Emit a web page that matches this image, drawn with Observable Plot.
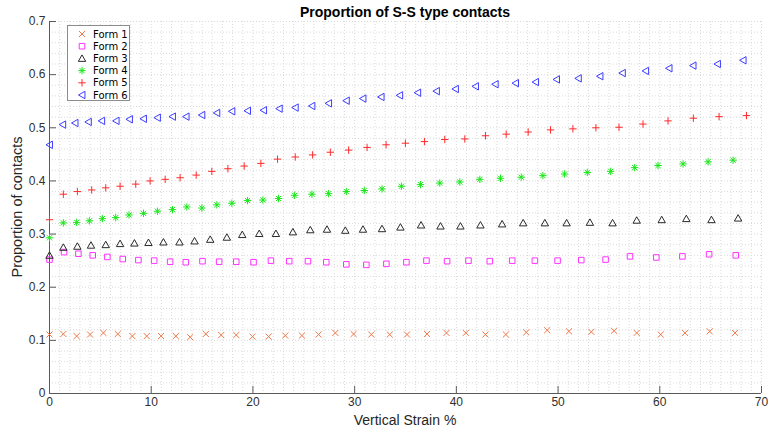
<!DOCTYPE html>
<html><head><meta charset="utf-8">
<script src="https://cdn.jsdelivr.net/npm/d3@7"></script>
<script src="https://cdn.jsdelivr.net/npm/@observablehq/plot@0.6"></script>
<style>
html,body{margin:0;padding:0;background:#fff;}
#chart{width:768px;height:431px;}
</style></head><body><div id="chart"></div>
<script>
// ---- data ----
const seriesNames = ["Form 1","Form 2","Form 3","Form 4","Form 5","Form 6"];
const xTickValues = [0,10,20,30,40,50,60,70];
const yTickValues = [0,0.1,0.2,0.3,0.4,0.5,0.6,0.7];

const form1X = [0,1.36,2.67,3.99,5.30,6.71,8.15,9.56,10.97,12.42,13.83,15.37,16.88,18.36,19.96,21.54,23.18,24.82,26.46,28.10,29.90,31.64,33.45,35.15,37.12,39.03,40.93,42.86,44.87,46.87,48.93,51.07,53.27,55.50,57.73,60.09,62.48,64.91,67.40];
const form1Y = [0.111,0.112,0.108,0.111,0.114,0.112,0.108,0.108,0.108,0.108,0.106,0.112,0.110,0.110,0.107,0.107,0.109,0.109,0.111,0.114,0.112,0.111,0.111,0.111,0.112,0.114,0.114,0.111,0.111,0.115,0.119,0.117,0.116,0.118,0.114,0.111,0.114,0.117,0.114];

const form2X = [0,1.43,2.84,4.25,5.69,7.20,8.74,10.29,11.86,13.40,15.04,16.68,18.36,20.06,21.77,23.57,25.41,27.21,29.18,31.15,33.12,35.09,37.06,39.09,41.19,43.29,45.49,47.72,49.95,52.28,54.67,57.07,59.66,62.22,64.85,67.47];
const form2Y = [0.252,0.266,0.263,0.260,0.257,0.253,0.251,0.250,0.248,0.247,0.249,0.248,0.248,0.247,0.250,0.249,0.249,0.247,0.243,0.242,0.244,0.247,0.250,0.249,0.250,0.249,0.250,0.250,0.250,0.251,0.252,0.258,0.256,0.258,0.262,0.260];

const form3X = [0,1.36,2.74,4.08,5.53,6.94,8.35,9.73,11.20,12.78,14.26,15.80,17.44,18.95,20.62,22.26,23.93,25.64,27.28,29.08,30.82,32.69,34.50,36.53,38.44,40.40,42.37,44.50,46.57,48.70,50.84,53.13,55.36,57.73,60.19,62.61,65.08,67.70];
const form3Y = [0.260,0.275,0.277,0.279,0.280,0.282,0.283,0.284,0.285,0.285,0.287,0.290,0.294,0.299,0.301,0.301,0.304,0.308,0.309,0.307,0.309,0.310,0.313,0.317,0.315,0.315,0.317,0.319,0.321,0.321,0.321,0.322,0.321,0.326,0.327,0.329,0.327,0.330];

const form4X = [0,1.36,2.67,3.92,5.20,6.51,7.82,9.24,10.61,12.09,13.50,14.98,16.45,17.93,19.47,20.98,22.52,24.10,25.80,27.44,29.18,30.95,32.69,34.60,36.47,38.37,40.34,42.31,44.34,46.38,48.51,50.64,52.87,55.17,57.53,59.83,62.29,64.75,67.21];
const form4Y = [0.293,0.321,0.322,0.325,0.329,0.331,0.336,0.339,0.343,0.346,0.351,0.349,0.355,0.358,0.363,0.364,0.367,0.373,0.375,0.376,0.380,0.382,0.385,0.390,0.393,0.396,0.398,0.403,0.405,0.407,0.410,0.413,0.416,0.418,0.425,0.429,0.432,0.436,0.439];

const form5X = [0,1.36,2.74,4.15,5.53,6.94,8.48,9.89,11.37,12.84,14.42,15.96,17.54,19.14,20.78,22.42,24.16,25.87,27.61,29.41,31.22,33.09,34.99,36.86,38.86,40.83,42.86,44.90,47.06,49.26,51.46,53.72,55.99,58.35,60.81,63.30,65.83,68.52];
const form5Y = [0.327,0.375,0.380,0.383,0.387,0.390,0.394,0.400,0.403,0.406,0.411,0.418,0.423,0.428,0.433,0.441,0.445,0.449,0.454,0.458,0.463,0.468,0.471,0.474,0.478,0.479,0.485,0.488,0.492,0.496,0.498,0.500,0.501,0.507,0.513,0.518,0.521,0.523];

const form6X = [0,1.30,2.51,3.82,5.13,6.55,7.86,9.24,10.61,12.09,13.43,14.98,16.45,17.93,19.47,21.05,22.59,24.16,25.80,27.44,29.18,30.82,32.60,34.43,36.20,38.04,39.91,41.88,43.82,45.82,47.79,49.85,51.99,54.12,56.32,58.61,60.91,63.27,65.67,68.19];
const form6Y = [0.468,0.506,0.509,0.511,0.513,0.513,0.516,0.517,0.519,0.521,0.521,0.524,0.528,0.531,0.532,0.533,0.536,0.538,0.541,0.546,0.551,0.555,0.558,0.561,0.566,0.569,0.573,0.578,0.582,0.584,0.586,0.591,0.593,0.597,0.603,0.607,0.612,0.617,0.620,0.627];

// ---- styling ----
const seriesColors = ["#f07848","#ff33ff","#2a2a2a","#18e818","#ff2a2a","#3d3dff"];
const rOf = s => Math.sqrt(s / Math.PI);
function seg(c, x0, y0, x1, y1) { c.moveTo(x0, y0); c.lineTo(x1, y1); }
const symTimes = {draw(c, s) { const r = rOf(s) * 0.82; seg(c,-r,-r,r,r); seg(c,-r,r,r,-r); }};
const symSquare = {draw(c, s) { const r = rOf(s) * 0.75; c.moveTo(-r,-r); c.lineTo(r,-r); c.lineTo(r,r); c.lineTo(-r,r); c.closePath(); }};
const symTriUp = {draw(c, s) { const r = rOf(s); c.moveTo(0,-r*0.95); c.lineTo(r,r*0.8); c.lineTo(-r,r*0.8); c.closePath(); }};
const symAster = {draw(c, s) { const r = rOf(s); seg(c,0,-r,0,r); seg(c,-r,0,r,0); const d = r*0.7; seg(c,-d,-d,d,d); seg(c,-d,d,d,-d); }};
const symPlus = {draw(c, s) { const r = rOf(s); seg(c,0,-r,0,r); seg(c,-r,0,r,0); }};
const symTriLeft = {draw(c, s) { const r = rOf(s); c.moveTo(-r*0.95,0); c.lineTo(r*0.8,-r); c.lineTo(r*0.8,r); c.closePath(); }};
const seriesSymbols = [symTimes, symSquare, symTriUp, symAster, symPlus, symTriLeft];

const seriesX = [form1X, form2X, form3X, form4X, form5X, form6X];
const seriesY = [form1Y, form2Y, form3Y, form4Y, form5Y, form6Y];
const tables = seriesX.map((xs, i) => xs.map((x, j) => ({x, y: seriesY[i][j]})));

const xGrid = d3.range(0, 71, 1);
const yGrid = d3.range(0, 36).map(i => +(i * 0.02).toFixed(2));
const R = 3.7;

const chart = Plot.plot({
  width: 768, height: 431,
  marginLeft: 49, marginRight: 7, marginTop: 21, marginBottom: 38,
  x: {domain: [0, 70]},
  y: {domain: [0, 0.7]},
  style: {fontFamily: "'Liberation Sans', Arial, sans-serif", fontSize: "12px", color: "#303030", background: "#fff"},
  marks: [
    Plot.gridX({ticks: xGrid, stroke: "#dadada", strokeOpacity: 1, strokeDasharray: "1,2"}),
    Plot.gridY({ticks: yGrid, stroke: "#dadada", strokeOpacity: 1, strokeDasharray: "1,2"}),
    Plot.ruleX([0], {stroke: "#5a5a5a"}),
    Plot.ruleY([0], {stroke: "#5a5a5a"}),
    Plot.axisX({ticks: xTickValues, tickSize: -7, tickPadding: 11, label: null, stroke: "#5a5a5a"}),
    Plot.axisY({ticks: yTickValues, tickSize: -7, tickPadding: 11, label: null, stroke: "#5a5a5a", tickFormat: d => String(d)}),
    ...tables.map((t, i) => Plot.dot(t, {x: "x", y: "y", symbol: seriesSymbols[i], r: R, stroke: seriesColors[i], fill: "none", strokeWidth: 1}))
  ]
});
document.getElementById("chart").appendChild(chart);

// ---- titles and legend ----
const svg = d3.select(chart);
svg.append("text").attr("x", 405).attr("y", 16.5).attr("text-anchor", "middle")
  .attr("font-family", "'Liberation Sans Narrow', 'Arial Narrow', sans-serif").attr("font-weight", "bold")
  .attr("font-size", 14).attr("fill", "#000").text("Proportion of S-S type contacts");
svg.append("text").attr("x", 405).attr("y", 424.5).attr("text-anchor", "middle")
  .attr("font-size", 14).attr("fill", "#262626").text("Vertical Strain %");
svg.append("text").attr("transform", "translate(22,207) rotate(-90)").attr("text-anchor", "middle")
  .attr("font-size", 14.5).attr("fill", "#262626").text("Proportion of contacts");

const lg = svg.append("g");
lg.append("rect").attr("x", 67.5).attr("y", 25.5).attr("width", 62).attr("height", 75)
  .attr("fill", "#fff").attr("stroke", "#8c8c8c");
seriesNames.forEach((name, i) => {
  const cy = 34 + i * 12.2;
  lg.append("path").attr("transform", `translate(82,${cy})`)
    .attr("d", d3.symbol().type(seriesSymbols[i]).size(Math.PI * R * R)())
    .attr("fill", "none").attr("stroke", seriesColors[i]).attr("stroke-width", 1);
  lg.append("text").attr("x", 93).attr("y", cy).attr("dy", "0.36em").attr("text-anchor", "start")
    .attr("font-family", "'DejaVu Sans', sans-serif")
    .attr("font-size", 10).attr("fill", "#000").text(name);
});
</script></body></html>
